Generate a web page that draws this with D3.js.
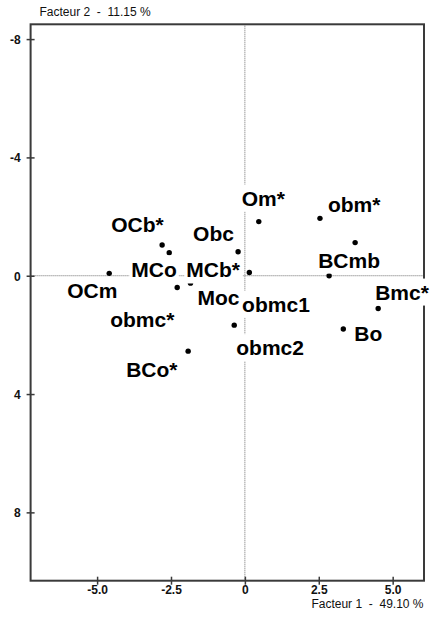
<!DOCTYPE html>
<html>
<head>
<meta charset="utf-8">
<script src="https://cdn.jsdelivr.net/npm/d3@7"></script>
<style>
    body { margin: 0; background: #fff; }
    text { font-family: "Liberation Sans", Arial, Helvetica, sans-serif; }
</style>
</head>
<body>
<svg id="acp-svg" width="435" height="623"></svg>
<script>
//**********  Factorial plan : Facteur 1 x Facteur 2  **************

// Data
var names = ["OCm", "OCb*", "MCo", "obmc*", "Moc", "Obc", "MCb*", "Om*", "obm*", "BCmb", "obmc1", "Bmc*", "Bo", "obmc2", "BCo*"];
var factor1 = [-4.59, -2.80, -2.56, -2.29, -1.84, -0.23, 0.15, 0.47, 2.54, 3.73, 2.85, 4.51, 3.33, -0.36, -1.92];
var factor2 = [-0.08, -1.04, -0.78, 0.40, 0.25, -0.81, -0.11, -1.83, -1.94, -1.12, 0.00, 1.11, 1.80, 1.67, 2.55];

var xTicks = [-5, -2.5, 0, 2.5, 5];
var xTickLabels = ["-5.0", "-2.5", "0", "2.5", "5.0"];
var yTicks = [-8, -4, 0, 4, 8];
var yTickLabels = ["-8", "-4", "0", "4", "8"];

var xTitle = "Facteur 1  -  49.10 %";
var yTitle = "Facteur 2  -  11.15 %";

// label placement (pixels from the dot : left edge / baseline)
var labelOffset = {
    "OCm": [-42, 25], "OCb*": [-51, -13], "MCo": [-38, 24], "obmc*": [-67, 39],
    "Moc": [7, 22], "Obc": [-45, -11], "MCb*": [-63, 5], "Om*": [-17, -16],
    "obm*": [8, -6], "BCmb": [-37, 25], "obmc1": [-87, 36], "Bmc*": [-3, -9],
    "Bo": [11, 12], "obmc2": [2, 30], "BCo*": [-62, 26]
};

//Setting up chart layout
var svgWidth = 435;
var svgHeight = 623;
var box = { left: 30.6, top: 24.3, right: 424, bottom: 580.7 };

var xScale = d3.scaleLinear()
    .domain([-7.25, 6.06])
    .range([box.left, box.right]);

// factor 2 runs downward : -8 on top
var yScale = d3.scaleLinear()
    .domain([-8.5, 10.31])
    .range([box.top, box.bottom]);

var points = names.map(function (d, i) {
    return { name: d, f1: factor1[i], f2: factor2[i] };
});

var svg = d3.select('#acp-svg');

// zero lines (dotted)
svg.append('line')
    .attr('x1', box.left).attr('x2', box.right)
    .attr('y1', yScale(0)).attr('y2', yScale(0))
    .style('stroke', '#6e6e6e')
    .style('stroke-width', 1)
    .style('stroke-dasharray', '1,1');
svg.append('line')
    .attr('x1', xScale(0)).attr('x2', xScale(0))
    .attr('y1', box.top).attr('y2', box.bottom)
    .style('stroke', '#6e6e6e')
    .style('stroke-width', 1)
    .style('stroke-dasharray', '1,1');

// frame
svg.append('rect')
    .attr('x', box.left)
    .attr('y', box.top)
    .attr('width', box.right - box.left)
    .attr('height', box.bottom - box.top)
    .style('fill', 'none')
    .style('stroke', '#3a3a3a')
    .style('stroke-width', 2);

/////////////////////////////////////////////////////////////////////
//                        AXES                                     //
/////////////////////////////////////////////////////////////////////
var xAxis = d3.axisBottom(xScale)
    .tickValues(xTicks)
    .tickFormat(function (d, i) { return xTickLabels[i]; })
    .tickSize(0);

svg.append('g')
    .attr('class', 'x axis')
    .attr('transform', 'translate(0,' + box.bottom + ')')
    .call(xAxis)
    .call(g => g.select('.domain').remove())
    .call(g => g.selectAll('.tick line')
        .attr('y1', -4).attr('y2', 4)
        .style('stroke', '#3a3a3a').style('stroke-width', 1.5))
    .call(g => g.selectAll('.tick text')
        .attr('y', 13.5).attr('dy', 0)
        .style('font-size', '12px')
        .style('font-weight', 'bold')
        .style('fill', '#111'));

var yAxis = d3.axisLeft(yScale)
    .tickValues(yTicks)
    .tickFormat(function (d, i) { return yTickLabels[i]; })
    .tickSize(0);

svg.append('g')
    .attr('class', 'y axis')
    .attr('transform', 'translate(' + box.left + ',0)')
    .call(yAxis)
    .call(g => g.select('.domain').remove())
    .call(g => g.selectAll('.tick line')
        .attr('x1', -4).attr('x2', 4)
        .style('stroke', '#3a3a3a').style('stroke-width', 1.5))
    .call(g => g.selectAll('.tick text')
        .attr('x', -10).attr('dy', '0.36em')
        .style('font-size', '12px')
        .style('font-weight', 'bold')
        .style('fill', '#111'));

// axis titles
svg.append('text')
    .attr('x', 39.5)
    .attr('y', 16)
    .style('font-size', '12px')
    .style('white-space', 'pre')
    .style('fill', '#111')
    .text(yTitle);

svg.append('text')
    .attr('x', 423.5)
    .attr('y', 608)
    .attr('text-anchor', 'end')
    .style('font-size', '12px')
    .style('white-space', 'pre')
    .style('fill', '#111')
    .text(xTitle);

/////////////////////////////////////////////////////////////////////
//                        POINTS + LABELS                          //
/////////////////////////////////////////////////////////////////////
svg.selectAll('.dot')
    .data(points)
    .enter()
    .append('circle')
    .attr('class', 'dot')
    .attr('cx', d => xScale(d.f1))
    .attr('cy', d => yScale(d.f2))
    .attr('r', 2.7)
    .style('fill', '#000');

var labelG = svg.selectAll('.label')
    .data(points)
    .enter()
    .append('g')
    .attr('class', 'label')
    .attr('transform', function (d) {
        var off = labelOffset[d.name];
        return 'translate(' + (xScale(d.f1) + off[0]) + ',' + (yScale(d.f2) + off[1]) + ')';
    });

// white box under each label hides the lines behind it
var labelText = labelG.append('text')
    .style('font-size', '21px')
    .style('font-weight', 'bold')
    .style('fill', '#000')
    .text(d => d.name);

labelG.each(function () {
    var g = d3.select(this);
    var bb = g.select('text').node().getBBox();
    g.insert('rect', 'text')
        .attr('x', bb.x - 2)
        .attr('y', bb.y - 2)
        .attr('width', bb.width + 4)
        .attr('height', bb.height + 4)
        .style('fill', '#fff');
});
</script>
</body>
</html>
